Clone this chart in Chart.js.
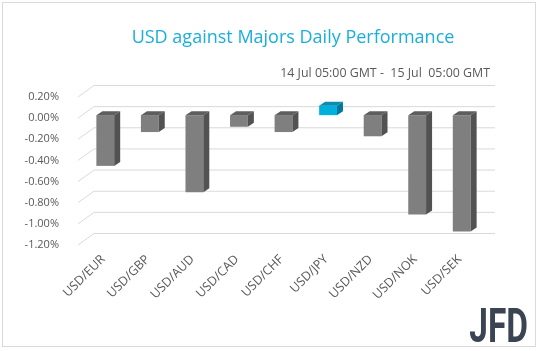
<!DOCTYPE html>
<html>
<head>
<meta charset="utf-8">
<script src="https://cdn.jsdelivr.net/npm/chart.js@4/dist/chart.umd.min.js"></script>
<style>
html, body { margin: 0; padding: 0; background: #ffffff; }
#wrap { position: relative; width: 538px; height: 351px; overflow: hidden; }
</style>
</head>
<body>
<div id="wrap">
    <canvas id="grafiku" width="538" height="351"></canvas>
</div>
<script>
// Të dhënat e grafikut
var pairs = ["USD/EUR", "USD/GBP", "USD/AUD", "USD/CAD", "USD/CHF", "USD/JPY", "USD/NZD", "USD/NOK", "USD/SEK"];
var changes = [-0.48, -0.16, -0.73, -0.11, -0.16, 0.09, -0.20, -0.94, -1.10];
var yTicks = [0.2, 0, -0.2, -0.4, -0.6, -0.8, -1.0, -1.2];
var titleText = "USD against Majors Daily Performance";
var subtitleText = "14 Jul 05:00 GMT -  15 Jul  05:00 GMT";
var logoText = "JFD";

// Ngjyrat: faqja e përparme, sipër, anash
var grey = ["#7f7f7f", "#5e5e5e", "#525252"];
var blue = ["#00b0dc", "#0a8db0", "#00789a"];

// Thellësia e efektit 3D
var DEPTH_X = 6, DEPTH_Y = 4;
var WALL_X = 11, WALL_Y = 8.5;

Chart.defaults.font.family = "'Open Sans', sans-serif";
Chart.defaults.font.size = 11;
Chart.defaults.color = "#595959";

// Vijat e murit të pasmë
var wallPlugin = {
    id: "wall",
    beforeDatasetsDraw: function(chart) {
        var ctx = chart.ctx, y = chart.scales.y, area = chart.chartArea;
        ctx.save();
        ctx.strokeStyle = "#d9d9d9";
        ctx.lineWidth = 1;
        yTicks.forEach(function(v) {
            var py = y.getPixelForValue(v);
            ctx.beginPath();
            ctx.moveTo(area.left - 5, py + 3);
            ctx.lineTo(area.left + WALL_X, py - WALL_Y);
            ctx.lineTo(area.right + WALL_X, py - WALL_Y);
            ctx.stroke();
        });
        ctx.restore();
    }
};

// Faqet e sipërme dhe anësore të shtyllave
var depthPlugin = {
    id: "depth",
    afterDatasetsDraw: function(chart) {
        var ctx = chart.ctx;
        ctx.save();
        chart.getDatasetMeta(0).data.forEach(function(bar, i) {
            var c = changes[i] >= 0 ? blue : grey;
            var l = bar.x - bar.width / 2, r = bar.x + bar.width / 2;
            var top = Math.min(bar.y, bar.base), bottom = Math.max(bar.y, bar.base);
            ctx.fillStyle = c[1];
            ctx.beginPath();
            ctx.moveTo(l, top);
            ctx.lineTo(l + DEPTH_X, top - DEPTH_Y);
            ctx.lineTo(r + DEPTH_X, top - DEPTH_Y);
            ctx.lineTo(r, top);
            ctx.closePath();
            ctx.fill();
            ctx.fillStyle = c[2];
            ctx.beginPath();
            ctx.moveTo(r, top);
            ctx.lineTo(r + DEPTH_X, top - DEPTH_Y);
            ctx.lineTo(r + DEPTH_X, bottom - DEPTH_Y);
            ctx.lineTo(r, bottom);
            ctx.closePath();
            ctx.fill();
        });
        ctx.restore();
    }
};

// Titulli, nëntitulli, logoja dhe korniza
var textPlugin = {
    id: "texts",
    afterDraw: function(chart) {
        var ctx = chart.ctx;
        ctx.save();
        ctx.fillStyle = "#1aaedb";
        ctx.font = "18px 'Open Sans', sans-serif";
        ctx.textAlign = "center";
        ctx.textBaseline = "middle";
        ctx.fillText(titleText, 293, 38);
        ctx.fillStyle = "#595959";
        ctx.font = "12.4px 'Open Sans', sans-serif";
        ctx.textAlign = "right";
        ctx.fillText(subtitleText, 490, 73);
        ctx.strokeStyle = "#d9d9d9";
        ctx.strokeRect(2.5, 2.5, 533, 344);

        // Logoja: e shtrijmë që të zërë kutinë e saj
        ctx.font = "bold 50px Roboto, sans-serif";
        ctx.textAlign = "left";
        ctx.textBaseline = "alphabetic";
        var m = ctx.measureText(logoText);
        var w = m.actualBoundingBoxLeft + m.actualBoundingBoxRight;
        var h = m.actualBoundingBoxAscent;
        ctx.translate(470, 342);
        ctx.scale(57 / w, 34 / h);
        ctx.fillStyle = "#3b4452";
        ctx.fillText(logoText, m.actualBoundingBoxLeft, 0);
        ctx.restore();
    }
};

var grafiku = new Chart(document.getElementById("grafiku"), {
    type: "bar",
    data: {
        labels: pairs,
        datasets: [{
            data: changes,
            backgroundColor: changes.map(function(v) { return v >= 0 ? blue[0] : grey[0]; }),
            borderWidth: 0,
            categoryPercentage: 1,
            barPercentage: 0.4
        }]
    },
    options: {
        responsive: false,
        animation: false,
        layout: { padding: { top: 94, right: 54, left: 0, bottom: 0 } },
        plugins: {
            legend: { display: false },
            tooltip: { enabled: false }
        },
        scales: {
            x: {
                grid: { display: false },
                border: { display: false },
                ticks: { autoSkip: false, maxRotation: 45, minRotation: 45, padding: 2, labelOffset: -2, font: { size: 12.5 } },
                afterFit: function(scale) { scale.height = 109; }
            },
            y: {
                min: -1.2,
                max: 0.2,
                grid: { display: false },
                border: { display: false },
                ticks: {
                    stepSize: 0.2,
                    padding: 16,
                    labelOffset: 3,
                    callback: function(v) {
                        if (Math.abs(v) < 1e-9) v = 0;
                        return v.toFixed(2) + "%";
                    }
                },
                afterFit: function(scale) { scale.width = 83; }
            }
        }
    },
    plugins: [wallPlugin, depthPlugin, textPlugin]
});
</script>
</body>
</html>
